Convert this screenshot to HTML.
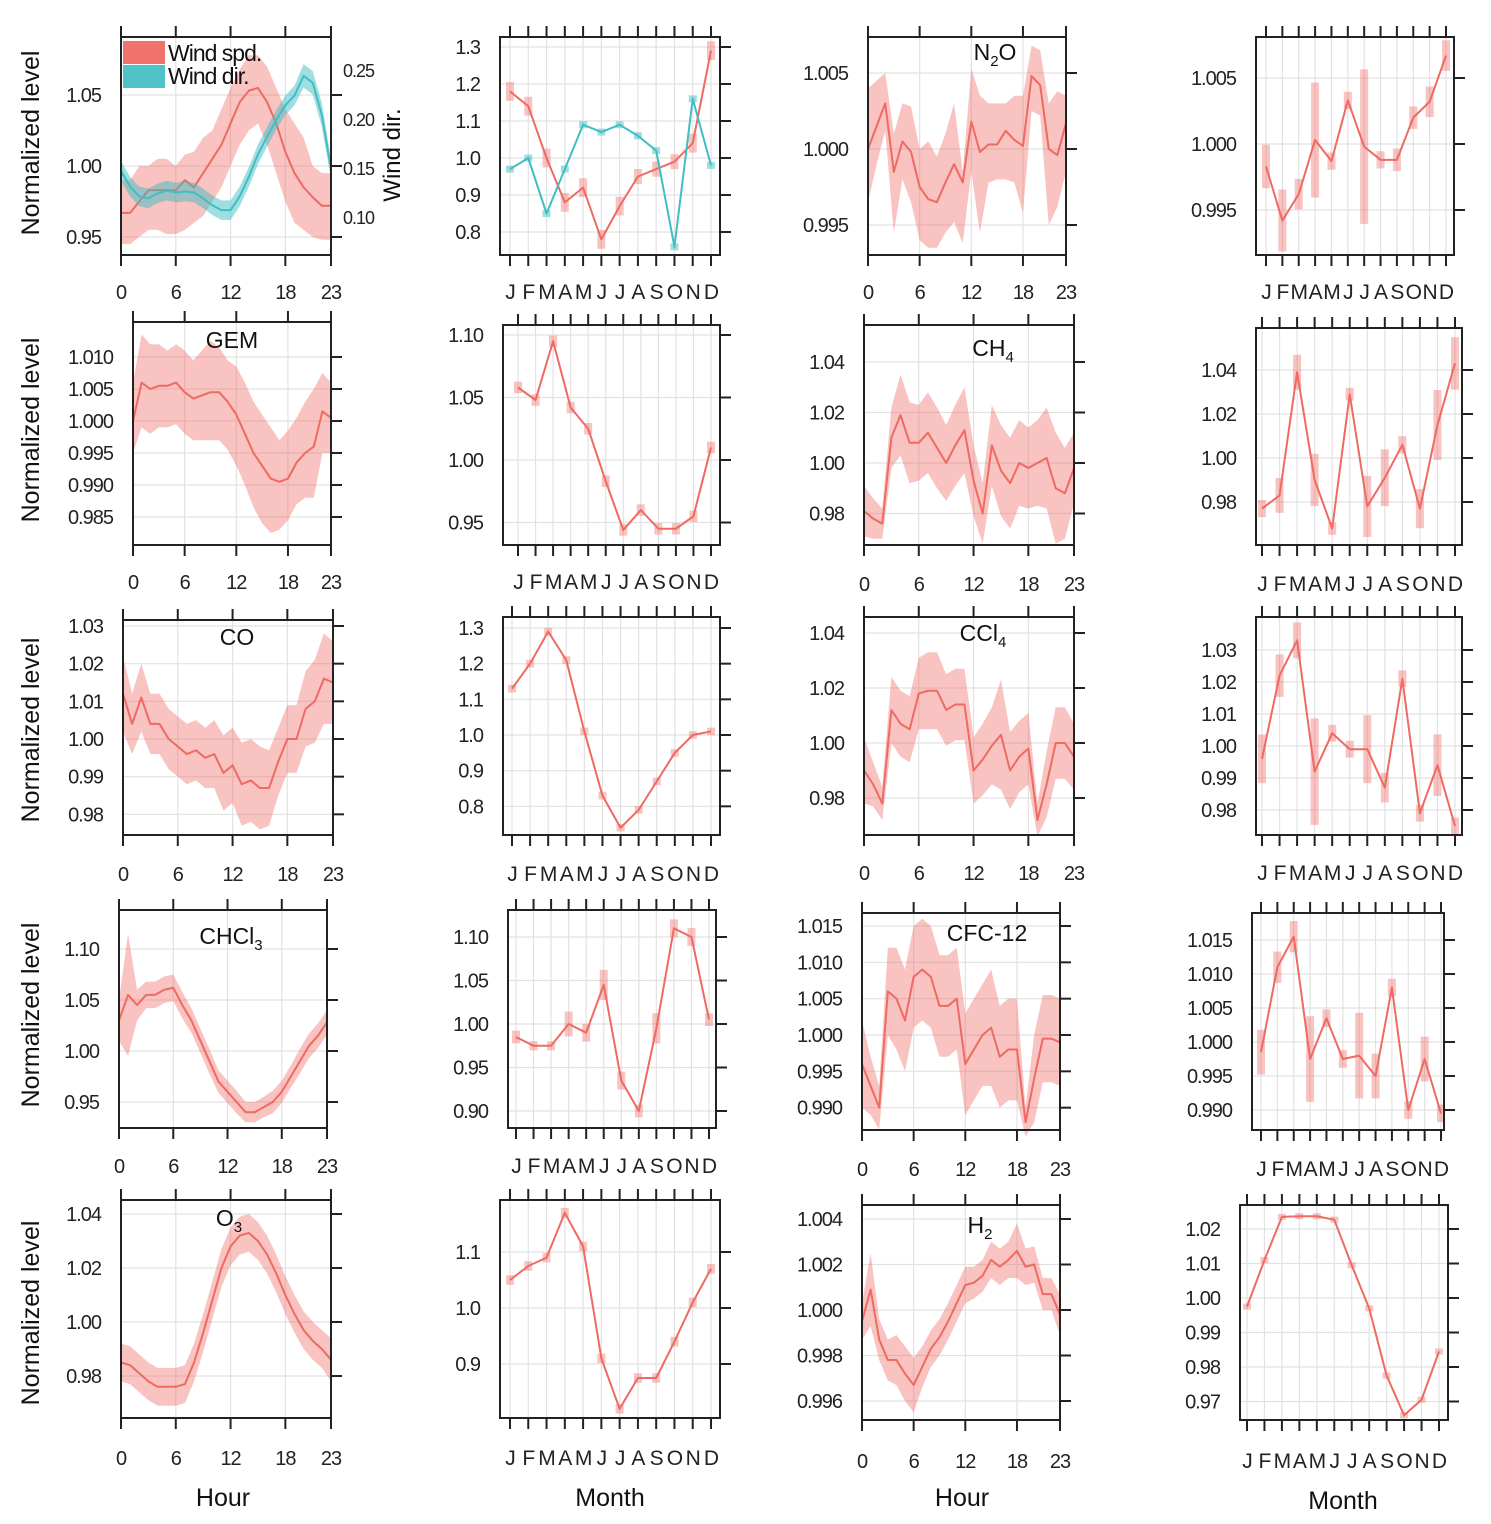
<!DOCTYPE html>
<html><head><meta charset="utf-8"><style>
html,body{margin:0;padding:0;background:#fff;}
svg{display:block;font-family:"Liberation Sans",sans-serif;}
.tk{font-size:20px;fill:#222;letter-spacing:-1px;}
.mk{font-size:21px;fill:#222;letter-spacing:-1px;}
</style></head><body>
<svg id="fig" width="1491" height="1524" viewBox="0 0 1491 1524" xmlns="http://www.w3.org/2000/svg"></svg>
<script>
// ---- data ----
const hours = [0,1,2,3,4,5,6,7,8,9,10,11,12,13,14,15,16,17,18,19,20,21,22,23];
const hourTicks = [0,6,12,18,23];
const monthLabels = ["J","F","M","A","M","J","J","A","S","O","N","D"];

const windSpd = [0.967,0.967,0.975,0.983,0.983,0.983,0.983,0.99,0.985,0.995,1.005,1.015,1.03,1.045,1.053,1.055,1.045,1.03,1.01,0.995,0.985,0.978,0.972,0.972];
const windSpdLo = [0.945,0.945,0.95,0.955,0.955,0.952,0.952,0.955,0.96,0.965,0.975,0.985,1.0,1.015,1.025,1.03,1.015,0.995,0.975,0.96,0.955,0.95,0.948,0.948];
const windSpdHi = [0.99,0.99,1.0,1.0,1.005,1.005,1.0,1.008,1.01,1.02,1.025,1.04,1.055,1.068,1.078,1.078,1.07,1.055,1.04,1.03,1.02,1.0,0.995,0.995];
const windDir = [0.148,0.132,0.122,0.12,0.125,0.128,0.126,0.127,0.126,0.12,0.113,0.108,0.108,0.122,0.142,0.165,0.183,0.2,0.215,0.225,0.245,0.238,0.205,0.15];
const windDirErr = [0.01,0.01,0.01,0.01,0.01,0.01,0.01,0.01,0.01,0.01,0.01,0.01,0.01,0.01,0.01,0.01,0.01,0.01,0.01,0.01,0.012,0.012,0.012,0.01];
const windDirTicks = [0.10,0.15,0.20,0.25];

const windSpdM = [1.18,1.14,1.0,0.88,0.92,0.78,0.87,0.95,0.97,0.99,1.04,1.29];
const windSpdMErr = [0.02,0.02,0.02,0.02,0.02,0.02,0.02,0.015,0.015,0.015,0.02,0.02];
const windDirM = [0.97,1.0,0.85,0.97,1.09,1.07,1.09,1.06,1.02,0.76,1.16,0.98];

const n2oH = [1.0,1.0015,1.003,0.9985,1.0005,0.9998,0.9975,0.9967,0.9965,0.9978,0.999,0.9978,1.0018,0.9998,1.0003,1.0003,1.0012,1.0006,1.0002,1.0048,1.0042,1.0,0.9996,1.0017];
const n2oHi = [1.004,1.0045,1.005,1.001,1.003,1.0028,1.0,1.0005,0.9995,1.001,1.003,0.9985,1.0053,1.0035,1.003,1.003,1.003,1.0035,1.0035,1.0068,1.0065,1.003,1.0038,1.0035];
const n2oLo = [0.9965,0.999,1.0012,0.9945,0.998,0.9965,0.994,0.9935,0.9935,0.9945,0.9952,0.9938,0.9985,0.9945,0.9978,0.998,0.998,0.9978,0.9958,1.0025,1.0022,0.995,0.9962,0.9985];
const n2oM = [0.9983,0.9942,0.9962,1.0003,0.9987,1.0033,0.9998,0.9988,0.9988,1.002,1.0032,1.0067];
const n2oMErr = [0.0015,0.0022,0.001,0.0042,0.0005,0.0005,0.0057,0.0005,0.0007,0.0007,0.001,0.001];

const gemH = [1.0,1.006,1.005,1.0055,1.0055,1.006,1.0045,1.0035,1.004,1.0045,1.0045,1.003,1.001,0.998,0.995,0.993,0.991,0.9905,0.991,0.9935,0.995,0.996,1.0015,1.0005];
const gemHi = [1.006,1.0135,1.012,1.012,1.011,1.012,1.011,1.0095,1.011,1.0125,1.0115,1.0095,1.0085,1.006,1.003,1.001,0.999,0.997,0.9985,1.0005,1.003,1.005,1.0075,1.006];
const gemLo = [0.995,0.999,0.998,0.999,0.999,0.9995,0.998,0.997,0.997,0.997,0.997,0.9955,0.993,0.99,0.9865,0.984,0.9825,0.983,0.9845,0.987,0.988,0.988,0.995,0.995];
const gemM = [1.058,1.048,1.095,1.042,1.025,0.983,0.944,0.96,0.945,0.945,0.955,1.01];
const gemMErr = [0.003,0.003,0.003,0.003,0.003,0.003,0.003,0.003,0.003,0.003,0.003,0.003];

const ch4H = [0.981,0.978,0.976,1.01,1.019,1.008,1.008,1.012,1.006,1.0,1.007,1.013,0.993,0.98,1.007,0.997,0.992,1.0,0.998,1.0,1.002,0.99,0.988,0.998];
const ch4HErr = [0.01,0.008,0.006,0.012,0.016,0.016,0.015,0.016,0.016,0.015,0.016,0.017,0.014,0.012,0.016,0.018,0.018,0.017,0.016,0.017,0.02,0.022,0.018,0.014];
const ch4M = [0.977,0.983,1.039,0.99,0.968,1.029,0.978,0.991,1.006,0.977,1.015,1.043];
const ch4MErr = [0.003,0.007,0.007,0.011,0.002,0.002,0.013,0.012,0.003,0.008,0.015,0.011];

const coH = [1.012,1.004,1.011,1.004,1.004,1.0,0.998,0.996,0.997,0.995,0.996,0.991,0.993,0.988,0.989,0.987,0.987,0.994,1.0,1.0,1.008,1.01,1.016,1.015];
const coHErr = [0.01,0.008,0.009,0.008,0.008,0.008,0.008,0.008,0.008,0.008,0.009,0.01,0.01,0.011,0.011,0.011,0.01,0.009,0.009,0.009,0.01,0.011,0.012,0.011];
const coM = [1.13,1.2,1.29,1.21,1.01,0.83,0.74,0.79,0.87,0.95,1.0,1.01];
const coMErr = [0.005,0.005,0.005,0.005,0.005,0.005,0.005,0.005,0.005,0.005,0.005,0.005];

const ccl4H = [0.99,0.985,0.978,1.012,1.007,1.005,1.018,1.019,1.019,1.012,1.014,1.014,0.99,0.994,0.999,1.003,0.99,0.995,0.998,0.972,0.985,1.0,1.0,0.995];
const ccl4HErr = [0.012,0.008,0.006,0.012,0.012,0.012,0.013,0.014,0.014,0.013,0.013,0.013,0.012,0.013,0.014,0.02,0.014,0.013,0.013,0.006,0.012,0.013,0.013,0.012];
const ccl4M = [0.996,1.022,1.033,0.992,1.004,0.999,0.999,0.987,1.021,0.979,0.994,0.975];
const ccl4MErr = [0.007,0.006,0.005,0.016,0.002,0.002,0.01,0.004,0.002,0.002,0.009,0.002];

const chcl3H = [1.03,1.055,1.045,1.055,1.055,1.06,1.062,1.045,1.03,1.01,0.99,0.97,0.96,0.95,0.94,0.94,0.945,0.95,0.96,0.975,0.99,1.005,1.015,1.028];
const chcl3HErr = [0.02,0.06,0.015,0.013,0.013,0.013,0.013,0.013,0.012,0.012,0.012,0.011,0.011,0.011,0.01,0.01,0.01,0.011,0.011,0.011,0.012,0.012,0.012,0.012];
const chcl3M = [0.985,0.975,0.975,1.0,0.99,1.045,0.935,0.9,0.995,1.11,1.1,1.005];
const chcl3MErr = [0.005,0.003,0.003,0.012,0.008,0.015,0.008,0.005,0.015,0.008,0.008,0.005];

const cfcH = [0.996,0.993,0.99,1.006,1.005,1.002,1.008,1.009,1.008,1.004,1.004,1.005,0.996,0.998,1.0,1.001,0.997,0.998,0.998,0.988,0.994,0.9995,0.9995,0.999];
const cfcHErr = [0.006,0.004,0.003,0.006,0.007,0.007,0.007,0.007,0.007,0.007,0.007,0.007,0.007,0.007,0.007,0.008,0.007,0.007,0.007,0.002,0.006,0.006,0.006,0.006];
const cfcM = [0.9985,1.011,1.0155,0.9975,1.0035,0.9975,0.998,0.995,1.008,0.99,0.9975,0.9895];
const cfcMErr = [0.003,0.002,0.002,0.006,0.001,0.001,0.006,0.003,0.001,0.001,0.003,0.001];

const o3H = [0.985,0.984,0.981,0.978,0.976,0.976,0.976,0.977,0.985,0.996,1.008,1.02,1.028,1.032,1.033,1.03,1.025,1.018,1.01,1.003,0.997,0.993,0.99,0.986];
const o3HErr = [0.007,0.007,0.007,0.007,0.007,0.007,0.007,0.007,0.007,0.007,0.007,0.007,0.007,0.007,0.007,0.007,0.007,0.007,0.007,0.007,0.007,0.007,0.007,0.008];
const o3M = [1.05,1.075,1.09,1.17,1.11,0.91,0.82,0.875,0.875,0.94,1.01,1.07];
const o3MErr = [0.005,0.005,0.005,0.005,0.005,0.005,0.005,0.005,0.005,0.005,0.005,0.005];

const h2H = [0.9995,1.0009,0.9987,0.9978,0.9978,0.9972,0.9967,0.9975,0.9983,0.9988,0.9995,1.0003,1.0011,1.0012,1.0015,1.0022,1.0019,1.0022,1.0026,1.0019,1.002,1.0007,1.0007,0.9998];
const h2HErr = [0.0008,0.0016,0.0009,0.0009,0.0011,0.0012,0.0012,0.0009,0.0008,0.0008,0.0008,0.0008,0.0008,0.0007,0.0007,0.0008,0.0008,0.0008,0.0012,0.0008,0.0008,0.0007,0.0007,0.0009];
const h2M = [0.9975,1.011,1.0235,1.0237,1.0237,1.0227,1.0095,0.997,0.9775,0.966,0.9705,0.9845];
const h2MErr = [0.0003,0.0003,0.0003,0.0003,0.0003,0.0003,0.0003,0.0003,0.0003,0.0003,0.0003,0.0003];

const ticksA = [0.95,1.00,1.05];
const ticksB = [0.8,0.9,1.0,1.1,1.2,1.3];
const ticksC = [0.995,1.000,1.005];
const ticksD = [0.985,0.990,0.995,1.000,1.005,1.010];
const ticksE = [0.95,1.00,1.05,1.10];
const ticksF = [0.98,1.00,1.02,1.04];
const ticksG = [0.98,0.99,1.00,1.01,1.02,1.03];
const ticksH = [0.90,0.95,1.00,1.05,1.10];
const ticksI = [0.990,0.995,1.000,1.005,1.010,1.015];
const ticksJ = [0.9,1.0,1.1];
const ticksK = [0.996,0.998,1.000,1.002,1.004];
const ticksL = [0.97,0.98,0.99,1.00,1.01,1.02];

function pm(v,e,s){return v.map((x,i)=>x+s*e[i]);}

// ---- drawing ----
const NS="http://www.w3.org/2000/svg";
const svg=document.getElementById('fig');
const RED="#ee6a62", REDB="rgba(238,106,98,0.4)", TEAL="#3fbec4", TEALB="rgba(63,190,196,0.5)";
function el(tag,attrs,parent){const e=document.createElementNS(NS,tag);for(const k in attrs)e.setAttribute(k,attrs[k]);(parent||svg).appendChild(e);return e;}

function panel(cfg){
  const g=el('g',{});
  
  
  const [x0,y0,x1,y1]=cfg.box;
  const [v1,p1,v2,p2]=cfg.cal;
  const Y=v=>p1+(v-v1)*(p2-p1)/(v2-v1);
  const n=cfg.type==='h'?24:12;
  const X=i=>cfg.xs[0]+i*(cfg.xs[1]-cfg.xs[0])/(n-1);
  const grid=el('g',{stroke:'#e2e2e2','stroke-width':1.2},g);
  
  
  cfg.yt.forEach(v=>el('line',{x1:x0,x2:x1,y1:Y(v),y2:Y(v)},grid));
  const xt=cfg.type==='h'?hourTicks:monthLabels.map((_,i)=>i);
  xt.forEach(t=>el('line',{x1:X(t),x2:X(t),y1:y0,y2:y1},grid));
  cfg.series.forEach(s=>{
    const sg=el('g',{},g);
    
    
    const Yf=s.Y||Y;
    if(cfg.type==='h'){
      let d='';
      s.hi.forEach((v,i)=>{d+=(i?'L':'M')+X(i)+','+Yf(v);});
      for(let i=s.lo.length-1;i>=0;i--)d+='L'+X(i)+','+Yf(s.lo[i]);
      const band=el('path',{d:d+'Z',fill:s.band},sg);
      
      
    } else {
      s.vals.forEach((v,i)=>{
        const a=Yf(v+s.err[i]),b=Yf(v-s.err[i]);
        const r=el('rect',{x:X(i)-4,y:Math.min(a,b)-2,width:8,height:Math.abs(b-a)+4,fill:s.band},sg);
        
        
      });
    }
    const pl=el('polyline',{points:s.vals.map((v,i)=>X(i)+','+Yf(v)).join(' '),fill:'none',stroke:s.color,'stroke-width':2,'stroke-linejoin':'round'},sg);
    
    
  });
  const fr=el('rect',{x:x0,y:y0,width:x1-x0,height:y1-y0,fill:'none',stroke:'#222','stroke-width':2},g);
  
  
  const tk=el('g',{stroke:'#222','stroke-width':2},g);
  
  
  xt.forEach(t=>{el('line',{x1:X(t),x2:X(t),y1:y0-11,y2:y0},tk);el('line',{x1:X(t),x2:X(t),y1:y1,y2:y1+11},tk);});
  cfg.yt.forEach(v=>el('line',{x1:x1,x2:x1+11,y1:Y(v),y2:Y(v)},tk));
  const yl=el('g',{class:'tk','text-anchor':'end'},g);
  
  
  cfg.yt.forEach(v=>{const t=el('text',{x:x0-20,y:Y(v)+7},yl);t.textContent=v.toFixed(cfg.fmt);});
  const xl=el('g',{class:cfg.type==='h'?'tk':'mk','text-anchor':'middle'},g);
  
  
  xt.forEach((t,i)=>{const tx=el('text',{x:X(t),y:cfg.ly},xl);tx.textContent=cfg.type==='h'?String(t):monthLabels[i];});
  if(cfg.title){
    const t=el('text',{x:cfg.title[1],y:cfg.title[2],'font-size':23,fill:'#111','text-anchor':'middle'},g);
    
    
    t.innerHTML=cfg.title[0];
  }
  return {X,Y,g};
}

const P=[
 {name:'panel-wind-hour',type:'h',box:[121,37,331,255],xs:[121,331],cal:[1.05,95,0.95,237],yt:ticksA,fmt:2,ly:299,
  series:[{name:'wind-speed',vals:windSpd,lo:windSpdLo,hi:windSpdHi,color:RED,band:REDB},
          {name:'wind-direction',vals:windDir,lo:pm(windDir,windDirErr,-1),hi:pm(windDir,windDirErr,1),color:TEAL,band:TEALB,Y:v=>71+(v-0.25)*(218-71)/(0.10-0.25)}]},
 {name:'panel-wind-month',type:'m',box:[500,37,720,255],xs:[510,711],cal:[1.0,158,1.3,47],yt:ticksB,fmt:1,ly:299,
  series:[{name:'wind-speed',vals:windSpdM,err:windSpdMErr,color:RED,band:REDB},
          {name:'wind-direction',vals:windDirM,err:windSpdMErr.map(()=>0.004),color:TEAL,band:TEALB}]},
 {name:'panel-n2o-hour',type:'h',box:[868,37,1066,255],xs:[868,1066],cal:[1.0,149,1.005,73],yt:ticksC,fmt:3,ly:299,title:['N<tspan font-size="15" dy="6">2</tspan><tspan dy="-6">O</tspan>',995,60],
  series:[{name:'n2o',vals:n2oH,lo:n2oLo,hi:n2oHi,color:RED,band:REDB}]},
 {name:'panel-n2o-month',type:'m',box:[1256,37,1454,255],xs:[1266,1446],cal:[1.0,144,1.005,78],yt:ticksC,fmt:3,ly:299,
  series:[{name:'n2o',vals:n2oM,err:n2oMErr,color:RED,band:REDB}]},
 {name:'panel-gem-hour',type:'h',box:[133,322,331,545],xs:[133,331],cal:[1.0,421,1.01,357],yt:ticksD,fmt:3,ly:589,title:['GEM',232,348],
  series:[{name:'gem',vals:gemH,lo:gemLo,hi:gemHi,color:RED,band:REDB}]},
 {name:'panel-gem-month',type:'m',box:[503,325,720,545],xs:[518,711],cal:[1.0,460,1.1,335],yt:ticksE,fmt:2,ly:589,
  series:[{name:'gem',vals:gemM,err:gemMErr,color:RED,band:REDB}]},
 {name:'panel-ch4-hour',type:'h',box:[864,325,1074,545],xs:[864,1074],cal:[1.0,463,1.04,362],yt:ticksF,fmt:2,ly:591,title:['CH<tspan font-size="15" dy="6">4</tspan>',993,356],
  series:[{name:'ch4',vals:ch4H,lo:pm(ch4H,ch4HErr,-1),hi:pm(ch4H,ch4HErr,1),color:RED,band:REDB}]},
 {name:'panel-ch4-month',type:'m',box:[1256,328,1462,545],xs:[1262,1455],cal:[1.0,458,1.04,370],yt:ticksF,fmt:2,ly:591,
  series:[{name:'ch4',vals:ch4M,err:ch4MErr,color:RED,band:REDB}]},
 {name:'panel-co-hour',type:'h',box:[123,620,333,835],xs:[123,333],cal:[1.0,739,1.03,626],yt:ticksG,fmt:2,ly:881,title:['CO',237,645],
  series:[{name:'co',vals:coH,lo:pm(coH,coHErr,-1),hi:pm(coH,coHErr,1),color:RED,band:REDB}]},
 {name:'panel-co-month',type:'m',box:[503,617,720,835],xs:[512,711],cal:[1.0,735,1.3,628],yt:ticksB,fmt:1,ly:881,
  series:[{name:'co',vals:coM,err:coMErr,color:RED,band:REDB}]},
 {name:'panel-ccl4-hour',type:'h',box:[864,617,1074,835],xs:[864,1074],cal:[1.0,743,1.04,633],yt:ticksF,fmt:2,ly:880,title:['CCl<tspan font-size="15" dy="6">4</tspan>',983,641],
  series:[{name:'ccl4',vals:ccl4H,lo:pm(ccl4H,ccl4HErr,-1),hi:pm(ccl4H,ccl4HErr,1),color:RED,band:REDB}]},
 {name:'panel-ccl4-month',type:'m',box:[1256,617,1462,835],xs:[1262,1455],cal:[1.0,746,1.03,650],yt:ticksG,fmt:2,ly:880,
  series:[{name:'ccl4',vals:ccl4M,err:ccl4MErr,color:RED,band:REDB}]},
 {name:'panel-chcl3-hour',type:'h',box:[119,910,327,1128],xs:[119,327],cal:[1.0,1051,1.1,949],yt:ticksE,fmt:2,ly:1173,title:['CHCl<tspan font-size="15" dy="6">3</tspan>',231,944],
  series:[{name:'chcl3',vals:chcl3H,lo:pm(chcl3H,chcl3HErr,-1),hi:pm(chcl3H,chcl3HErr,1),color:RED,band:REDB}]},
 {name:'panel-chcl3-month',type:'m',box:[508,910,716,1128],xs:[516,709],cal:[1.0,1024,1.1,937],yt:ticksH,fmt:2,ly:1173,
  series:[{name:'chcl3',vals:chcl3M,err:chcl3MErr,color:RED,band:REDB}]},
 {name:'panel-cfc12-hour',type:'h',box:[862,913,1060,1130],xs:[862,1060],cal:[1.0,1035,1.015,926],yt:ticksI,fmt:3,ly:1176,title:['CFC-12',987,941],
  series:[{name:'cfc12',vals:cfcH,lo:pm(cfcH,cfcHErr,-1),hi:pm(cfcH,cfcHErr,1),color:RED,band:REDB}]},
 {name:'panel-cfc12-month',type:'m',box:[1252,913,1444,1130],xs:[1261,1441],cal:[1.0,1042,1.015,940],yt:ticksI,fmt:3,ly:1176,
  series:[{name:'cfc12',vals:cfcM,err:cfcMErr,color:RED,band:REDB}]},
 {name:'panel-o3-hour',type:'h',box:[121,1200,331,1418],xs:[121,331],cal:[1.0,1322,1.04,1214],yt:ticksF,fmt:2,ly:1465,title:['O<tspan font-size="15" dy="6">3</tspan>',229,1226],
  series:[{name:'o3',vals:o3H,lo:pm(o3H,o3HErr,-1),hi:pm(o3H,o3HErr,1),color:RED,band:REDB}]},
 {name:'panel-o3-month',type:'m',box:[500,1200,720,1418],xs:[510,711],cal:[1.0,1308,1.1,1252],yt:ticksJ,fmt:1,ly:1465,
  series:[{name:'o3',vals:o3M,err:o3MErr,color:RED,band:REDB}]},
 {name:'panel-h2-hour',type:'h',box:[862,1205,1060,1420],xs:[862,1060],cal:[1.0,1310,1.004,1219],yt:ticksK,fmt:3,ly:1468,title:['H<tspan font-size="15" dy="6">2</tspan>',980,1233],
  series:[{name:'h2',vals:h2H,lo:pm(h2H,h2HErr,-1),hi:pm(h2H,h2HErr,1),color:RED,band:REDB}]},
 {name:'panel-h2-month',type:'m',box:[1240,1205,1448,1420],xs:[1247,1439],cal:[1.0,1298,1.02,1229],yt:ticksL,fmt:2,ly:1468,
  series:[{name:'h2',vals:h2M,err:h2MErr,color:RED,band:REDB}]}
];
P.forEach(panel);

const ra=el('g',{class:'tk'});


windDirTicks.forEach(v=>{
  const y=71+(v-0.25)*(218-71)/(0.10-0.25);
  const t=el('text',{x:343,y:y+6,'font-size':18},ra);t.textContent=v.toFixed(2);
});
const rt=el('text',{x:0,y:0,'font-size':24,fill:'#111','text-anchor':'middle',transform:'translate(400,155) rotate(-90)'});


rt.textContent='Wind dir.';

const lg=el('g',{});


el('rect',{x:123,y:41,width:42,height:23,fill:'#ef736c'},lg);
el('rect',{x:123,y:65,width:42,height:23,fill:'#4fc3c8'},lg);
const l1=el('text',{x:168,y:61,'font-size':23,fill:'#111','letter-spacing':-1},lg);l1.textContent='Wind spd.';


const l2=el('text',{x:168,y:84,'font-size':23,fill:'#111','letter-spacing':-1},lg);l2.textContent='Wind dir.';



[143,430,730,1015,1313].forEach(cy=>{
  const t=el('text',{x:0,y:0,'font-size':25,fill:'#111','text-anchor':'middle',transform:'translate(39,'+cy+') rotate(-90)'});
  
  
  t.textContent='Normalized level';
});
[['Hour',223,1506],['Month',610,1506],['Hour',962,1506],['Month',1343,1509]].forEach(a=>{
  const t=el('text',{x:a[1],y:a[2],'font-size':25,fill:'#111','text-anchor':'middle'});
  
  
  t.textContent=a[0];
});
</script>
</body></html>
